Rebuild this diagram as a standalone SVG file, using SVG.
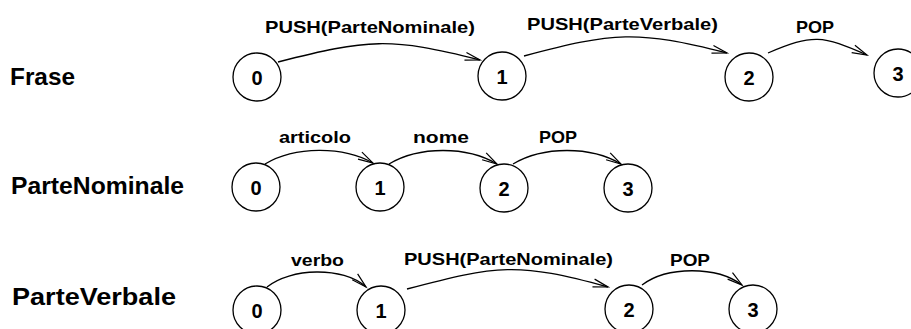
<svg xmlns="http://www.w3.org/2000/svg" width="911" height="329" viewBox="0 0 911 329">
  <style>
    .state circle { fill: #ffffff; stroke: #000000; stroke-width: 1.3; }
    .state text { font-family: "Liberation Sans", Arial, sans-serif; font-weight: bold; font-size: 20px; text-anchor: middle; fill: #000; }
    .net { font-family: "Liberation Sans", Arial, sans-serif; font-weight: bold; font-size: 24px; fill: #000; }
    .lbl { font-family: "Liberation Sans", Arial, sans-serif; font-weight: bold; font-size: 17px; fill: #000; }
    .arc { fill: none; stroke: #000; stroke-width: 1.3; marker-end: url(#head); }
  </style>
  <defs>
    <marker id="head" markerUnits="userSpaceOnUse" markerWidth="20" markerHeight="12" refX="15" refY="6" orient="auto" overflow="visible">
      <path d="M0,2 L15,6 L0,10" fill="none" stroke="#000" stroke-width="1.2"/>
    </marker>
  </defs>

  <!-- network names -->
  <text class="net" x="10" y="85" textLength="65" lengthAdjust="spacingAndGlyphs">Frase</text>
  <text class="net" x="11" y="194" textLength="173" lengthAdjust="spacingAndGlyphs">ParteNominale</text>
  <text class="net" x="12" y="305" textLength="164" lengthAdjust="spacingAndGlyphs">ParteVerbale</text>

  <!-- Frase -->
  <g id="frase-0" class="state"><circle cx="257" cy="77" r="24"/><text x="257" y="85">0</text></g>
  <g id="frase-1" class="state"><circle cx="502" cy="76" r="24"/><text x="502" y="84">1</text></g>
  <g id="frase-2" class="state"><circle cx="749" cy="77" r="24"/><text x="749" y="85">2</text></g>
  <g id="frase-3" class="state"><circle cx="898" cy="73" r="24"/><text x="898" y="81">3</text></g>

  <!-- ParteNominale -->
  <g id="pn-0" class="state"><circle cx="256" cy="187" r="24"/><text x="256" y="195">0</text></g>
  <g id="pn-1" class="state"><circle cx="380" cy="187" r="24"/><text x="380" y="195">1</text></g>
  <g id="pn-2" class="state"><circle cx="504" cy="188" r="24"/><text x="504" y="196">2</text></g>
  <g id="pn-3" class="state"><circle cx="628" cy="188" r="24"/><text x="628" y="196">3</text></g>

  <!-- ParteVerbale -->
  <g id="pv-0" class="state"><circle cx="257" cy="310" r="24"/><text x="257" y="318">0</text></g>
  <g id="pv-1" class="state"><circle cx="381" cy="310" r="24"/><text x="381" y="318">1</text></g>
  <g id="pv-2" class="state"><circle cx="629" cy="309" r="24"/><text x="629" y="317">2</text></g>
  <g id="pv-3" class="state"><circle cx="753" cy="309" r="24"/><text x="753" y="317">3</text></g>

  <!-- transitions -->
  <g id="connectors">
    <path class="arc" d="M278,62 C368,39 390,37 480,60"/>
    <path class="arc" d="M524,56 C614,32 637,30 727,53"/>
    <path class="arc" d="M768,53 C813,34 822,35 867,55"/>

    <path class="arc" d="M265,164 C295,146 343,146 373,163"/>
    <path class="arc" d="M389,164 C419,146 467,146 497,164"/>
    <path class="arc" d="M513,164 C543,146 591,146 621,164"/>

    <path class="arc" d="M267,287 C290,268 343,266 366,287"/>
    <path class="arc" d="M407,289 C497,265 518,262 608,287"/>
    <path class="arc" d="M642,285 C667,266 717,266 742,285"/>
  </g>

  <!-- transition labels -->
  <g id="labels">
    <text class="lbl" x="265" y="33" textLength="210" lengthAdjust="spacingAndGlyphs">PUSH(ParteNominale)</text>
    <text class="lbl" x="527" y="30" textLength="191" lengthAdjust="spacingAndGlyphs">PUSH(ParteVerbale)</text>
    <text class="lbl" x="796" y="33" textLength="38" lengthAdjust="spacingAndGlyphs">POP</text>

    <text class="lbl" x="279" y="143" textLength="72" lengthAdjust="spacingAndGlyphs">articolo</text>
    <text class="lbl" x="413" y="143" textLength="56" lengthAdjust="spacingAndGlyphs">nome</text>
    <text class="lbl" x="539" y="143" textLength="38" lengthAdjust="spacingAndGlyphs">POP</text>

    <text class="lbl" x="291" y="266" textLength="53" lengthAdjust="spacingAndGlyphs">verbo</text>
    <text class="lbl" x="404" y="265" textLength="209" lengthAdjust="spacingAndGlyphs">PUSH(ParteNominale)</text>
    <text class="lbl" x="670" y="266" textLength="40" lengthAdjust="spacingAndGlyphs">POP</text>
  </g>
</svg>
